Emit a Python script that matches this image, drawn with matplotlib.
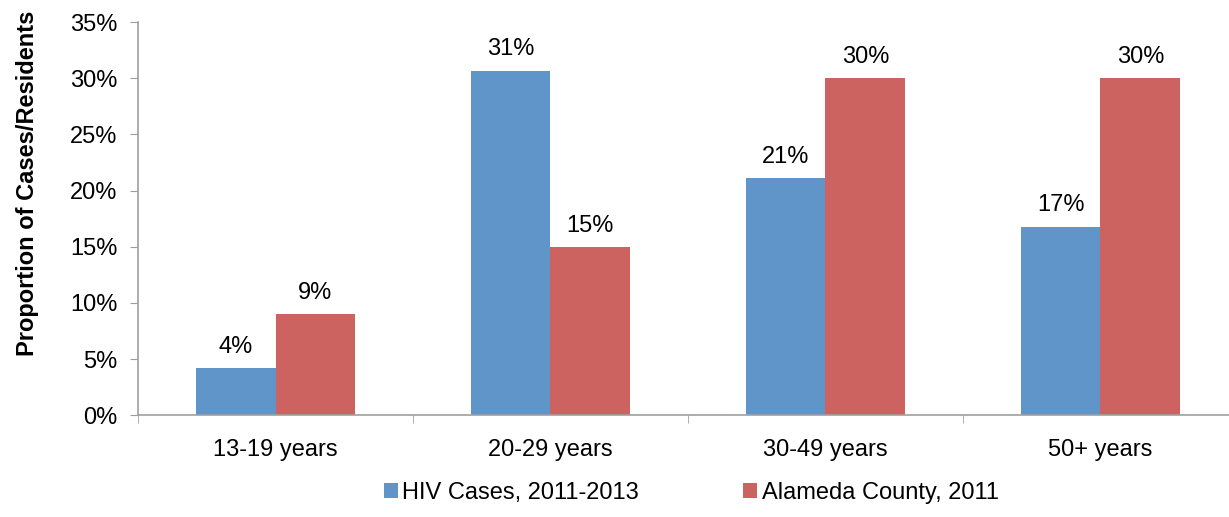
import matplotlib.pyplot as plt
import numpy as np
from matplotlib.ticker import FuncFormatter

plt.rcParams['font.family'] = ['Liberation Sans', 'DejaVu Sans']

groups = ["13-19 years", "20-29 years", "30-49 years", "50+ years"]
hiv = [4.2, 30.7, 21.1, 16.8]
alameda = [9.0, 15.0, 30.0, 30.0]
hiv_labels = ["4%", "31%", "21%", "17%"]
alameda_labels = ["9%", "15%", "30%", "30%"]

blue = "#5f95c9"
red = "#cd6360"
grey = "#a0a0a0"
fs = 17

fig = plt.figure(figsize=(12.29, 5.17), dpi=100)
# axis runs past the right edge of the picture, as in the original
ax = fig.add_axes([0.1123, 0.197, 0.895, 0.76])

x = np.arange(len(groups))
w = 0.29
b1 = ax.bar(x - w/2, hiv, w, color=blue, label="HIV Cases, 2011-2013")
b2 = ax.bar(x + w/2, alameda, w, color=red, label="Alameda County, 2011")

for bars, labs in ((b1, hiv_labels), (b2, alameda_labels)):
    for r, t in zip(bars, labs):
        ax.text(r.get_x() + r.get_width()/2, r.get_height() + 0.9, t,
                ha="center", va="bottom", fontsize=fs)

ax.set_xlim(-0.5, len(groups) - 0.5)
ax.set_ylim(0, 35)
ax.set_yticks(range(0, 36, 5))
ax.yaxis.set_major_formatter(FuncFormatter(lambda v, p: "%d%%" % v))
ax.set_xticks(x)
ax.set_xticklabels(groups)
ax.set_xticks(np.arange(-0.5, len(groups)), minor=True)
ax.tick_params(axis="x", which="major", length=0, pad=17, labelsize=fs)
ax.tick_params(axis="x", which="minor", length=6, color=grey, direction="out")
ax.tick_params(axis="y", length=6, color=grey, direction="out", labelsize=fs, pad=9)

for s in ("top", "right"):
    ax.spines[s].set_visible(False)
for s in ("left", "bottom"):
    ax.spines[s].set_color(grey)
    ax.spines[s].set_linewidth(1.2)

ax.set_ylabel("Proportion of Cases/Residents", fontsize=fs, fontweight="bold")
ax.yaxis.set_label_coords(-0.09, 0.59)

ax.legend(loc="upper center", bbox_to_anchor=(0.503, -0.115), ncol=2, frameon=False,
          fontsize=fs, handlelength=0.6, handleheight=0.6, handletextpad=0.2,
          columnspacing=4.4)

fig.savefig("out.png", dpi=100)
